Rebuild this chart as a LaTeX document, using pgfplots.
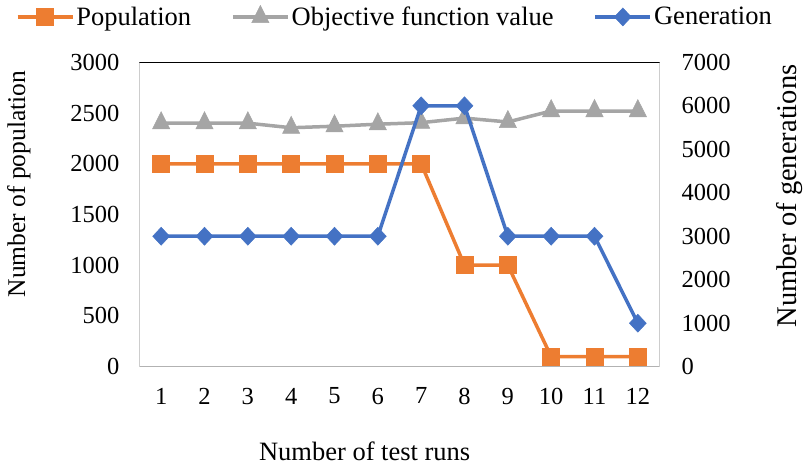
\documentclass[border=0pt]{standalone}
\usepackage{fontspec}
\setmainfont{Liberation Serif}
\usepackage{pgfplots}
\pgfplotsset{compat=1.18}
\definecolor{cOr}{HTML}{ED7D31}
\definecolor{cGr}{HTML}{A5A5A5}
\definecolor{cBl}{HTML}{4472C4}
\newcommand{\fs}{\fontsize{24.5bp}{29bp}\selectfont}
\newcommand{\fl}{\fontsize{26.5bp}{31bp}\selectfont}
\pgfplotsset{
  common/.style={scale only axis, width=520bp, height=304.4bp,
    xmin=0.5, xmax=12.5, ymin=0, major tick length=0pt,
    /pgf/number format/assume math mode=true,
    /pgf/number format/1000 sep={}, scaled ticks=false,
    tick label style={font=\fs, inner sep=0pt},
    axis line style={draw=none}},
  popst/.style={color=cOr, line width=3.5bp, mark=square*, mark size=8.5bp, mark options={line width=0.5bp}},
  objst/.style={color=cGr, line width=3.5bp, mark=triangle*, mark size=10bp, mark options={line width=0.5bp, yscale=1.15}},
  genst/.style={color=cBl, line width=3.5bp, mark=diamond*, mark size=9bp, mark options={line width=0.5bp, xscale=1.25}},
}
\begin{document}
\begin{tikzpicture}
\begin{axis}[common, name=a1, ymax=3000, ytick={0,500,...,3000}, xtick={1,...,12},
  yticklabel style={anchor=east, xshift=-20bp},
  xticklabel style={anchor=north, yshift=-21bp},
  ylabel={Number of population}, xlabel={Number of test runs},
  every axis y label/.style={at={(axis description cs:-0.232,0.6)}, rotate=90, anchor=center, font=\fontsize{25.5bp}{30bp}\selectfont},
  every axis x label/.style={at={(axis description cs:0.433,-0.279)}, anchor=center, font=\fl}]
\draw[gray!60, line width=1.2bp] (rel axis cs:0,1) -- (rel axis cs:0,0) -- (rel axis cs:1,0) -- (rel axis cs:1,1);
\draw[black, line width=1.2bp] (rel axis cs:0,1) -- (rel axis cs:1,1);
\addplot[popst] coordinates {(1,2000) (2,2000) (3,2000) (4,2000) (5,2000) (6,2000) (7,2000) (8,1000) (9,1000) (10,100) (11,100) (12,100)};
\addplot[objst] coordinates {(1,2400) (2,2400) (3,2400) (4,2355) (5,2370) (6,2390) (7,2405) (8,2450) (9,2412) (10,2520) (11,2520) (12,2520)};
\end{axis}
\begin{axis}[common, ymax=7000, ytick={0,1000,...,7000}, xtick=\empty,
  yticklabel pos=right,
  yticklabel style={anchor=west, xshift=22bp},
  ylabel={Number of generations},
  every axis y label/.style={at={(axis description cs:1.251,0.561)}, rotate=90, anchor=center, font=\fontsize{28.5bp}{33bp}\selectfont},
  legend columns=3,
  legend style={draw=none, fill=none, at={(axis description cs:0.491,1.149)}, anchor=center, font=\fl,
    nodes={inner sep=2bp}, /tikz/every even column/.append style={column sep=38bp}},
  legend image code/.code={\draw[#1, mark repeat=2, mark phase=2] plot coordinates {(0bp,0bp) (27.5bp,0bp) (55bp,0bp)};}]
\addlegendimage{popst}
\addlegendentry{Population}
\addlegendimage{objst}
\addlegendentry{Objective function value}
\addplot[genst] coordinates {(1,3000) (2,3000) (3,3000) (4,3000) (5,3000) (6,3000) (7,6000) (8,6000) (9,3000) (10,3000) (11,3000) (12,1000)};
\addlegendentry{Generation}
\end{axis}
\pgfresetboundingbox
\path ([shift={(-139.5bp,-98.3bp)}]a1.south west) rectangle ([shift={(665.5bp,366.7bp)}]a1.south west);
\end{tikzpicture}
\end{document}
